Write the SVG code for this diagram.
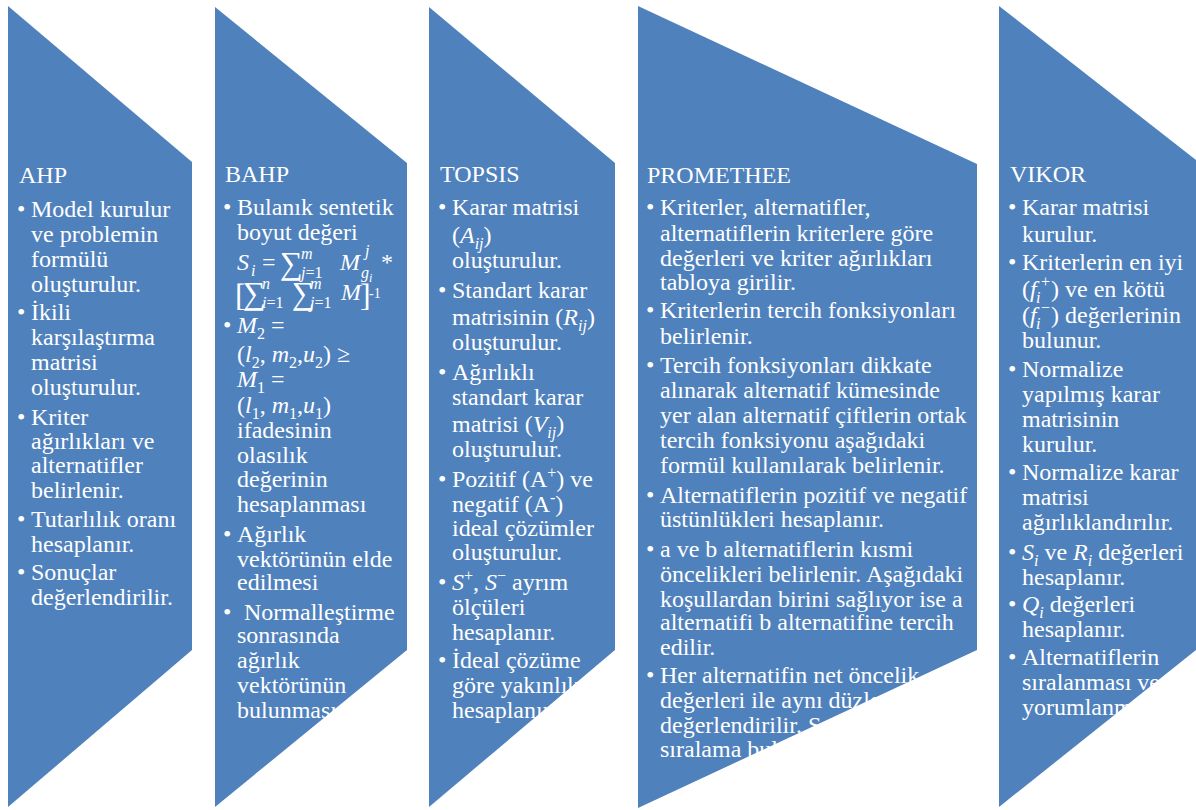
<svg xmlns="http://www.w3.org/2000/svg" width="1196" height="810" viewBox="0 0 1196 810">
<style>
.shape{fill:#4F81BD}
text{font-family:'Liberation Serif','Times New Roman',serif;font-size:24px;fill:#FFFFFF}
.i{font-style:italic}
.s{font-size:16px}
.ss{font-size:12px}
.sum{font-size:32px}
.br{font-size:32px}
.e{font-size:14px}
</style>
<rect x="0" y="0" width="1196" height="810" fill="#FFFFFF"/>

<g id="ahp">
<polygon class="shape" points="8,6 192,162 192,650 8,807"/>
<text x="19" y="183">AHP</text>
<text x="17" y="217">•</text><text x="31" y="217">Model kurulur</text>
<text x="31" y="242">ve problemin</text>
<text x="31" y="267">formülü</text>
<text x="31" y="292">oluşturulur.</text>
<text x="17" y="320">•</text><text x="31" y="320">İkili</text>
<text x="31" y="345">karşılaştırma</text>
<text x="31" y="370">matrisi</text>
<text x="31" y="395">oluşturulur.</text>
<text x="17" y="425">•</text><text x="31" y="425">Kriter</text>
<text x="31" y="449">ağırlıkları ve</text>
<text x="31" y="473">alternatifler</text>
<text x="31" y="498">belirlenir.</text>
<text x="17" y="527">•</text><text x="31" y="527">Tutarlılık oranı</text>
<text x="31" y="552">hesaplanır.</text>
<text x="17" y="580">•</text><text x="31" y="580">Sonuçlar</text>
<text x="31" y="605">değerlendirilir.</text>
</g>

<g id="bahp">
<polygon class="shape" points="215,7 407,163 407,650 215,807"/>
<text x="225" y="182">BAHP</text>
<text x="223" y="215">•</text><text x="237" y="215">Bulanık sentetik</text>
<text x="237" y="240">boyut değeri</text>
<text x="237" y="270" class="i">S</text><text x="251" y="276" class="s i">i</text>
<text x="262" y="270">=</text>
<text x="280" y="274" class="sum">∑</text>
<text x="301" y="259" class="s i">m</text>
<text x="301" y="278" class="s"><tspan class="i">j</tspan>=1</text>
<text x="340" y="270" class="i">M</text>
<text x="365" y="256" class="s i">j</text>
<text x="361" y="278" class="s i">g</text><text x="369" y="282" class="ss i">i</text>
<text x="381" y="270">*</text>
<text x="235" y="306" class="br">[</text>
<text x="243" y="304" class="sum">∑</text>
<text x="262" y="289" class="s i">n</text>
<text x="262" y="308" class="s"><tspan class="i">i</tspan>=1</text>
<text x="292" y="304" class="sum">∑</text>
<text x="310" y="289" class="s i">m</text>
<text x="310" y="308" class="s"><tspan class="i">j</tspan>=1</text>
<text x="341" y="300" class="i">M</text>
<text x="360" y="306" class="br">]</text>
<text x="369" y="298" class="e">-1</text>
<text x="223" y="333">•</text>
<text x="237" y="333"><tspan class="i">M</tspan><tspan class="s" dy="6">2</tspan><tspan dy="-6"> =</tspan></text>
<text x="237" y="362">(<tspan class="i">l</tspan><tspan class="s" dy="6">2</tspan><tspan dy="-6">, </tspan><tspan class="i">m</tspan><tspan class="s" dy="6">2</tspan><tspan dy="-6">,</tspan><tspan class="i">u</tspan><tspan class="s" dy="6">2</tspan><tspan dy="-6">) ≥</tspan></text>
<text x="237" y="387"><tspan class="i">M</tspan><tspan class="s" dy="6">1</tspan><tspan dy="-6"> =</tspan></text>
<text x="237" y="413">(<tspan class="i">l</tspan><tspan class="s" dy="6">1</tspan><tspan dy="-6">, </tspan><tspan class="i">m</tspan><tspan class="s" dy="6">1</tspan><tspan dy="-6">,</tspan><tspan class="i">u</tspan><tspan class="s" dy="6">1</tspan><tspan dy="-6">)</tspan></text>
<text x="237" y="438">ifadesinin</text>
<text x="237" y="463">olasılık</text>
<text x="237" y="487">değerinin</text>
<text x="237" y="512">hesaplanması</text>
<text x="223" y="542">•</text><text x="237" y="542">Ağırlık</text>
<text x="237" y="567">vektörünün elde</text>
<text x="237" y="590">edilmesi</text>
<text x="223" y="620">•</text><text x="244" y="620">Normalleştirme</text>
<text x="237" y="643">sonrasında</text>
<text x="237" y="668">ağırlık</text>
<text x="237" y="693">vektörünün</text>
<text x="237" y="718">bulunması</text>
</g>

<g id="topsis">
<polygon class="shape" points="429,7 615,163 615,650 429,807"/>
<text x="440" y="182">TOPSIS</text>
<text x="438" y="215">•</text><text x="452" y="215">Karar matrisi</text>
<text x="452" y="243">(<tspan class="i">A</tspan><tspan class="s i" dy="6">ij</tspan><tspan dy="-6">)</tspan></text>
<text x="452" y="268">oluşturulur.</text>
<text x="438" y="298">•</text><text x="452" y="298">Standart karar</text>
<text x="452" y="325">matrisinin (<tspan class="i">R</tspan><tspan class="s i" dy="6">ij</tspan><tspan dy="-6">)</tspan></text>
<text x="452" y="350">oluşturulur.</text>
<text x="438" y="380">•</text><text x="452" y="380">Ağırlıklı</text>
<text x="452" y="405">standart karar</text>
<text x="452" y="432">matrisi (<tspan class="i">V</tspan><tspan class="s i" dy="6">ij</tspan><tspan dy="-6">)</tspan></text>
<text x="452" y="457">oluşturulur.</text>
<text x="438" y="487">•</text><text x="452" y="487">Pozitif (A<tspan class="s" dy="-9">+</tspan><tspan dy="9">) ve</tspan></text>
<text x="452" y="512">negatif (A<tspan class="s" dy="-9">-</tspan><tspan dy="9">)</tspan></text>
<text x="452" y="536">ideal çözümler</text>
<text x="452" y="560">oluşturulur.</text>
<text x="438" y="590">•</text><text x="452" y="590"><tspan class="i">S</tspan><tspan class="s" dy="-9">+</tspan><tspan dy="9">, </tspan><tspan class="i">S</tspan><tspan class="s" dy="-9">−</tspan><tspan dy="9"> ayrım</tspan></text>
<text x="452" y="615">ölçüleri</text>
<text x="452" y="640">hesaplanır.</text>
<text x="438" y="668">•</text><text x="452" y="668">İdeal çözüme</text>
<text x="452" y="693">göre yakınlık</text>
<text x="452" y="718">hesaplanır.</text>
</g>

<g id="promethee">
<polygon class="shape" points="638,6 977,164 977,650 638,808"/>
<text x="647" y="183">PROMETHEE</text>
<text x="646" y="215">•</text><text x="660" y="215">Kriterler, alternatifler,</text>
<text x="660" y="241">alternatiflerin kriterlere göre</text>
<text x="660" y="266">değerleri ve kriter ağırlıkları</text>
<text x="660" y="290">tabloya girilir.</text>
<text x="646" y="318">•</text><text x="660" y="318">Kriterlerin tercih fonksiyonları</text>
<text x="660" y="344">belirlenir.</text>
<text x="646" y="373">•</text><text x="660" y="373">Tercih fonksiyonları dikkate</text>
<text x="660" y="398">alınarak alternatif kümesinde</text>
<text x="660" y="423">yer alan alternatif çiftlerin ortak</text>
<text x="660" y="448">tercih fonksiyonu aşağıdaki</text>
<text x="660" y="473">formül kullanılarak belirlenir.</text>
<text x="646" y="503">•</text><text x="660" y="503">Alternatiflerin pozitif ve negatif</text>
<text x="660" y="527">üstünlükleri hesaplanır.</text>
<text x="646" y="557">•</text><text x="660" y="557">a ve b alternatiflerin kısmi</text>
<text x="660" y="582">öncelikleri belirlenir. Aşağıdaki</text>
<text x="660" y="607">koşullardan birini sağlıyor ise a</text>
<text x="660" y="630">alternatifi b alternatifine tercih</text>
<text x="660" y="655">edilir.</text>
<text x="646" y="683">•</text><text x="660" y="683">Her alternatifin net öncelik</text>
<text x="660" y="708">değerleri ile aynı düzlemde</text>
<text x="660" y="733">değerlendirilir. Sonuç</text>
<text x="660" y="757">sıralama bulunur.</text>
</g>

<g id="vikor">
<polygon class="shape" points="999,6 1196,160 1196,650 999,807"/>
<text x="1010" y="182">VIKOR</text>
<text x="1008" y="215">•</text><text x="1022" y="215">Karar matrisi</text>
<text x="1022" y="242">kurulur.</text>
<text x="1008" y="270">•</text><text x="1022" y="270">Kriterlerin en iyi</text>
<text x="1022" y="297">(</text><text x="1030" y="297" class="i">f</text><text x="1036" y="303" class="s i">i</text><text x="1041" y="287" class="s">+</text><text x="1051" y="297">) ve en kötü</text>
<text x="1022" y="323">(</text><text x="1030" y="323" class="i">f</text><text x="1036" y="329" class="s i">i</text><text x="1041" y="313" class="s">−</text><text x="1051" y="323">) değerlerinin</text>
<text x="1022" y="348">bulunur.</text>
<text x="1008" y="377">•</text><text x="1022" y="377">Normalize</text>
<text x="1022" y="402">yapılmış karar</text>
<text x="1022" y="427">matrisinin</text>
<text x="1022" y="452">kurulur.</text>
<text x="1008" y="480">•</text><text x="1022" y="480">Normalize karar</text>
<text x="1022" y="505">matrisi</text>
<text x="1022" y="530">ağırlıklandırılır.</text>
<text x="1008" y="560">•</text><text x="1022" y="560"><tspan class="i">S</tspan><tspan class="s i" dy="6">i</tspan><tspan dy="-6"> ve </tspan><tspan class="i">R</tspan><tspan class="s i" dy="6">i</tspan><tspan dy="-6"> değerleri</tspan></text>
<text x="1022" y="585">hesaplanır.</text>
<text x="1008" y="612">•</text><text x="1022" y="612"><tspan class="i">Q</tspan><tspan class="s i" dy="6">i</tspan><tspan dy="-6"> değerleri</tspan></text>
<text x="1022" y="637">hesaplanır.</text>
<text x="1008" y="665">•</text><text x="1022" y="665">Alternatiflerin</text>
<text x="1022" y="690">sıralanması ve</text>
<text x="1022" y="715">yorumlanması</text>
</g>

<g id="connectors"></g>
</svg>
